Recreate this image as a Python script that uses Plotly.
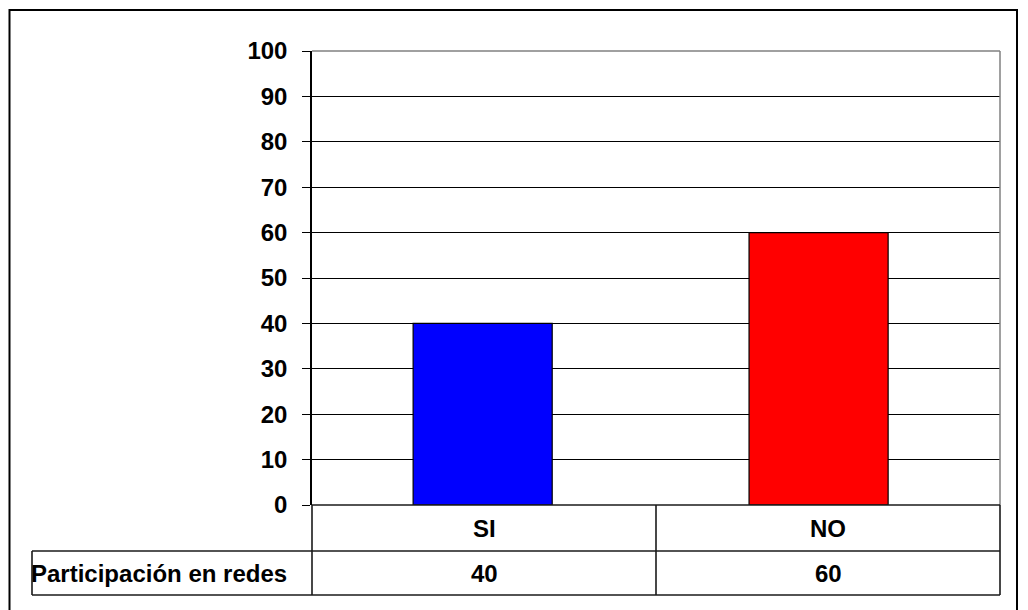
import plotly.graph_objects as go

categories = ["SI", "NO"]
values = [40, 60]
bar_colors = ["#0000FF", "#FF0000"]
row_label = "Participación en redes"
y_ticks = [0, 10, 20, 30, 40, 50, 60, 70, 80, 90, 100]

FONT = "Liberation Sans, Arial, sans-serif"
OFF = 8  # page body margin
W, H = 1028, 610
# target plot area in screen px: x 312..1000, y 51..505
PL, PR, PT, PB = 312 - OFF, 1000 - OFF, 51 - OFF, 505 - OFF
ML, MR, MT, MB = PL, W - PR, PT, H - PB
PW = PR - PL
PH = PB - PT


def px_x(px):
    return (px - OFF - PL) / PW


def px_y(py):
    return (PB - (py - OFF)) / PH


fig = go.Figure()
fig.add_trace(go.Bar(
    x=categories, y=values,
    marker=dict(color=bar_colors, line=dict(color="#000000", width=1.2)),
    width=0.414, hoverinfo="skip",
))

shapes = []
line_col = "#1a1a1a"
shapes.append(dict(type="line", xref="paper", yref="paper", x0=0, x1=1, y0=1, y1=1,
                   line=dict(color="#808080", width=1.5), layer="above"))
shapes.append(dict(type="line", xref="paper", yref="paper", x0=1, x1=1, y0=0, y1=1,
                   line=dict(color="#808080", width=1.5), layer="above"))
row1_top, row1_bot, row2_bot = px_y(505), px_y(551), px_y(595)
xl, xm, xr = 0, 0.5, 1
xlab = px_x(32)
for (x0, x1, y0, y1) in [
    (xl, xr, row1_top, row1_top),
    (xlab, xr, row1_bot, row1_bot),
    (xlab, xr, row2_bot, row2_bot),
    (xl, xl, row1_top, row2_bot),
    (xm, xm, row1_top, row2_bot),
    (xr, xr, row1_top, row2_bot),
    (xlab, xlab, row1_bot, row2_bot),
]:
    shapes.append(dict(type="line", xref="paper", yref="paper", x0=x0, x1=x1, y0=y0, y1=y1,
                       line=dict(color=line_col, width=1.6), layer="above"))
fx0, fx1, fy0, fy1 = px_x(9.5), px_x(1017), px_y(625), px_y(10)
shapes.append(dict(type="rect", xref="paper", yref="paper", x0=fx0, x1=fx1, y0=fy0, y1=fy1,
                   line=dict(color="#000000", width=2), layer="above"))

annotations = []
n = len(categories)
for i, (c, v) in enumerate(zip(categories, values)):
    xc = (i + 0.5) / n
    annotations.append(dict(x=xc, y=(row1_top + row1_bot) / 2, xref="paper", yref="paper",
                            xanchor="center", yanchor="middle",
                            text="<b>%s</b>" % c, showarrow=False,
                            font=dict(family=FONT, size=24, color="#000")))
    annotations.append(dict(x=xc, y=(row1_bot + row2_bot) / 2, xref="paper", yref="paper",
                            xanchor="center", yanchor="middle",
                            text="<b>%d</b>" % v, showarrow=False,
                            font=dict(family=FONT, size=24, color="#000")))
annotations.append(dict(x=xlab, y=(row1_bot + row2_bot) / 2, xref="paper", yref="paper",
                        xanchor="left", yanchor="middle", xshift=-3,
                        text="<b>%s</b>" % row_label, showarrow=False,
                        font=dict(family=FONT, size=24, color="#000")))

fig.update_layout(
    width=W, height=H,
    margin=dict(l=ML, r=MR, t=MT, b=MB, autoexpand=False),
    paper_bgcolor="white", plot_bgcolor="white",
    showlegend=False,
    shapes=shapes, annotations=annotations,
    xaxis=dict(showticklabels=False, showgrid=False, zeroline=False, showline=False,
               ticks="", range=[-0.508, 1.540], fixedrange=True),
    yaxis=dict(range=[0, 100], tickvals=y_ticks, ticktext=["<b>%d</b>" % t for t in y_ticks],
               tickfont=dict(family=FONT, size=24, color="#000"),
               showgrid=True, gridcolor="#000000", gridwidth=1.2,
               zeroline=False, showline=True, linecolor="#000000", linewidth=1.5,
               ticks="outside", ticklen=8, tickcolor="#000000", tickwidth=1.2,
               ticklabelstandoff=10, fixedrange=True),
)

fig.write_html("out.html")
